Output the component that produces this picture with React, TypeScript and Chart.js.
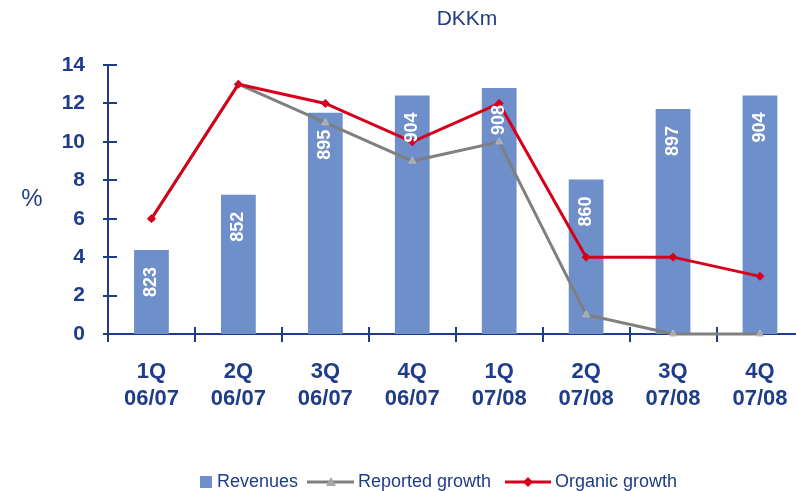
import React, { useEffect, useRef } from "react";
import { Chart, registerables } from "chart.js";

Chart.register(...registerables);

const quarters = ["1Q", "2Q", "3Q", "4Q", "1Q", "2Q", "3Q", "4Q"];
const years = ["06/07", "06/07", "06/07", "06/07", "07/08", "07/08", "07/08", "07/08"];
const revenues = [823, 852, 895, 904, 908, 860, 897, 904];
const reportedGrowth = [6, 13, 11, 9, 10, 1, 0, 0];
const organicGrowth = [6, 13, 12, 10, 12, 4, 4, 3];
const yTickValues = [0, 2, 4, 6, 8, 10, 12, 14];
const legendLabels = ["Revenues", "Reported growth", "Organic growth"];
const unitTitle = "DKKm";
const axisTitle = "%";

const NAVY = "#1F3C88";
const BAR = "#6F8FCA";
const RED = "#D6001C";
const GRAY = "#7F7F7F";
const FONT = "'Liberation Sans', Arial, sans-serif";

const decorPlugin = {
  id: "decor",
  beforeDatasetsDraw(chart: any) {
    const ctx = chart.ctx;
    const { left, right, bottom } = chart.chartArea;
    const yScale = chart.scales.y;
    ctx.save();
    ctx.strokeStyle = NAVY;
    ctx.lineWidth = 2;
    yTickValues.forEach((v) => {
      const y = Math.round(yScale.getPixelForValue(v));
      ctx.beginPath();
      ctx.moveTo(left - 5, y);
      ctx.lineTo(left + 9, y);
      ctx.stroke();
    });
    const n = quarters.length;
    for (let i = 0; i <= n; i++) {
      const x = Math.round(left + (i * (right - left)) / n);
      ctx.beginPath();
      ctx.moveTo(x, bottom - 7);
      ctx.lineTo(x, bottom + 8);
      ctx.stroke();
    }
    ctx.restore();
  },
  afterDatasetsDraw(chart: any) {
    const ctx = chart.ctx;
    ctx.save();
    // bar value labels
    const meta = chart.getDatasetMeta(0);
    ctx.fillStyle = "#FFFFFF";
    ctx.font = `bold 18px ${FONT}`;
    meta.data.forEach((bar: any, i: number) => {
      ctx.save();
      ctx.translate(bar.x, bar.y + 17);
      ctx.rotate(-Math.PI / 2);
      ctx.textAlign = "right";
      ctx.textBaseline = "middle";
      ctx.fillText(String(revenues[i]), 0, 0);
      ctx.restore();
    });

    // title
    ctx.fillStyle = NAVY;
    ctx.font = `21px ${FONT}`;
    ctx.textAlign = "center";
    ctx.textBaseline = "middle";
    ctx.fillText(unitTitle, 467, 19);

    // axis title
    ctx.font = `24px ${FONT}`;
    ctx.fillText(axisTitle, 32, 199);

    // legend
    const ly = 482;
    ctx.font = `18px ${FONT}`;
    ctx.textAlign = "left";
    ctx.fillStyle = BAR;
    ctx.fillRect(200, ly - 6, 12, 12);
    ctx.fillStyle = NAVY;
    ctx.fillText(legendLabels[0], 217, ly);

    ctx.strokeStyle = GRAY;
    ctx.lineWidth = 3;
    ctx.beginPath();
    ctx.moveTo(307, ly);
    ctx.lineTo(354, ly);
    ctx.stroke();
    ctx.fillStyle = "#A8A8A8";
    ctx.beginPath();
    ctx.moveTo(331, ly - 5);
    ctx.lineTo(336, ly + 4);
    ctx.lineTo(326, ly + 4);
    ctx.closePath();
    ctx.fill();
    ctx.fillStyle = NAVY;
    ctx.fillText(legendLabels[1], 358, ly);

    ctx.strokeStyle = RED;
    ctx.beginPath();
    ctx.moveTo(505, ly);
    ctx.lineTo(551, ly);
    ctx.stroke();
    ctx.fillStyle = RED;
    ctx.beginPath();
    ctx.moveTo(528, ly - 5);
    ctx.lineTo(533, ly);
    ctx.lineTo(528, ly + 5);
    ctx.lineTo(523, ly);
    ctx.closePath();
    ctx.fill();
    ctx.fillStyle = NAVY;
    ctx.fillText(legendLabels[2], 555, ly);

    ctx.restore();
  },
};

export default function App() {
  const canvasRef = useRef<HTMLCanvasElement | null>(null);

  useEffect(() => {
    const canvas = canvasRef.current;
    if (!canvas) return;
    const chart = new Chart(canvas, {
      type: "bar",
      data: {
        labels: quarters.map((q, i) => [q, years[i]]),
        datasets: [
          {
            type: "bar",
            label: legendLabels[0],
            data: revenues,
            yAxisID: "rev",
            backgroundColor: BAR,
            barPercentage: 0.4,
            categoryPercentage: 1,
            order: 2,
          },
          {
            type: "line",
            label: legendLabels[1],
            data: reportedGrowth,
            yAxisID: "y",
            borderColor: GRAY,
            borderWidth: 3,
            pointStyle: "triangle",
            pointRadius: 4,
            pointBackgroundColor: "#A8A8A8",
            pointBorderColor: "#BDBDBD",
            pointBorderWidth: 1,
            tension: 0,
            clip: false,
            order: 1,
          } as any,
          {
            type: "line",
            label: legendLabels[2],
            data: organicGrowth,
            yAxisID: "y",
            borderColor: RED,
            borderWidth: 3,
            pointStyle: "rectRot",
            pointRadius: 4,
            pointBackgroundColor: RED,
            pointBorderColor: RED,
            pointBorderWidth: 1,
            tension: 0,
            clip: false,
            order: 0,
          } as any,
        ],
      },
      options: {
        responsive: false,
        animation: false,
        layout: { padding: { top: 65, right: 8, bottom: 0, left: 0 } },
        plugins: {
          legend: { display: false },
          tooltip: { enabled: false },
        },
        scales: {
          x: {
            type: "category",
            offset: true,
            grid: { display: true, drawOnChartArea: false, drawTicks: false, offset: true },
            border: { display: true, color: NAVY, width: 2 },
            ticks: {
              color: NAVY,
              font: { family: FONT, size: 22, weight: "bold", lineHeight: 1.23 },
              padding: 24,
              maxRotation: 0,
              autoSkip: false,
            },
            afterFit: (s: any) => {
              s.height = 157;
            },
          },
          y: {
            type: "linear",
            position: "left",
            min: 0,
            max: 14,
            grid: { display: true, drawOnChartArea: false, drawTicks: false },
            border: { display: true, color: NAVY, width: 2 },
            ticks: {
              stepSize: 2,
              color: NAVY,
              font: { family: FONT, size: 21, weight: "bold" },
              padding: 23,
            },
            afterFit: (s: any) => {
              s.width = 108;
            },
          },
          rev: {
            type: "linear",
            position: "right",
            display: true,
            min: 779,
            max: 920,
            grid: { display: false, drawTicks: false },
            border: { display: false },
            ticks: { display: false },
            afterFit: (s: any) => {
              s.width = 0;
            },
          },
        },
      } as any,
      plugins: [decorPlugin],
    });
    return () => chart.destroy();
  }, []);

  return (
    <div
      style={{
        position: "fixed",
        left: 0,
        top: 0,
        width: 796,
        height: 491,
        overflow: "hidden",
        background: "#FFFFFF",
      }}
    >
      <canvas ref={canvasRef} width={812} height={491} style={{ display: "block" }} />
    </div>
  );
}
